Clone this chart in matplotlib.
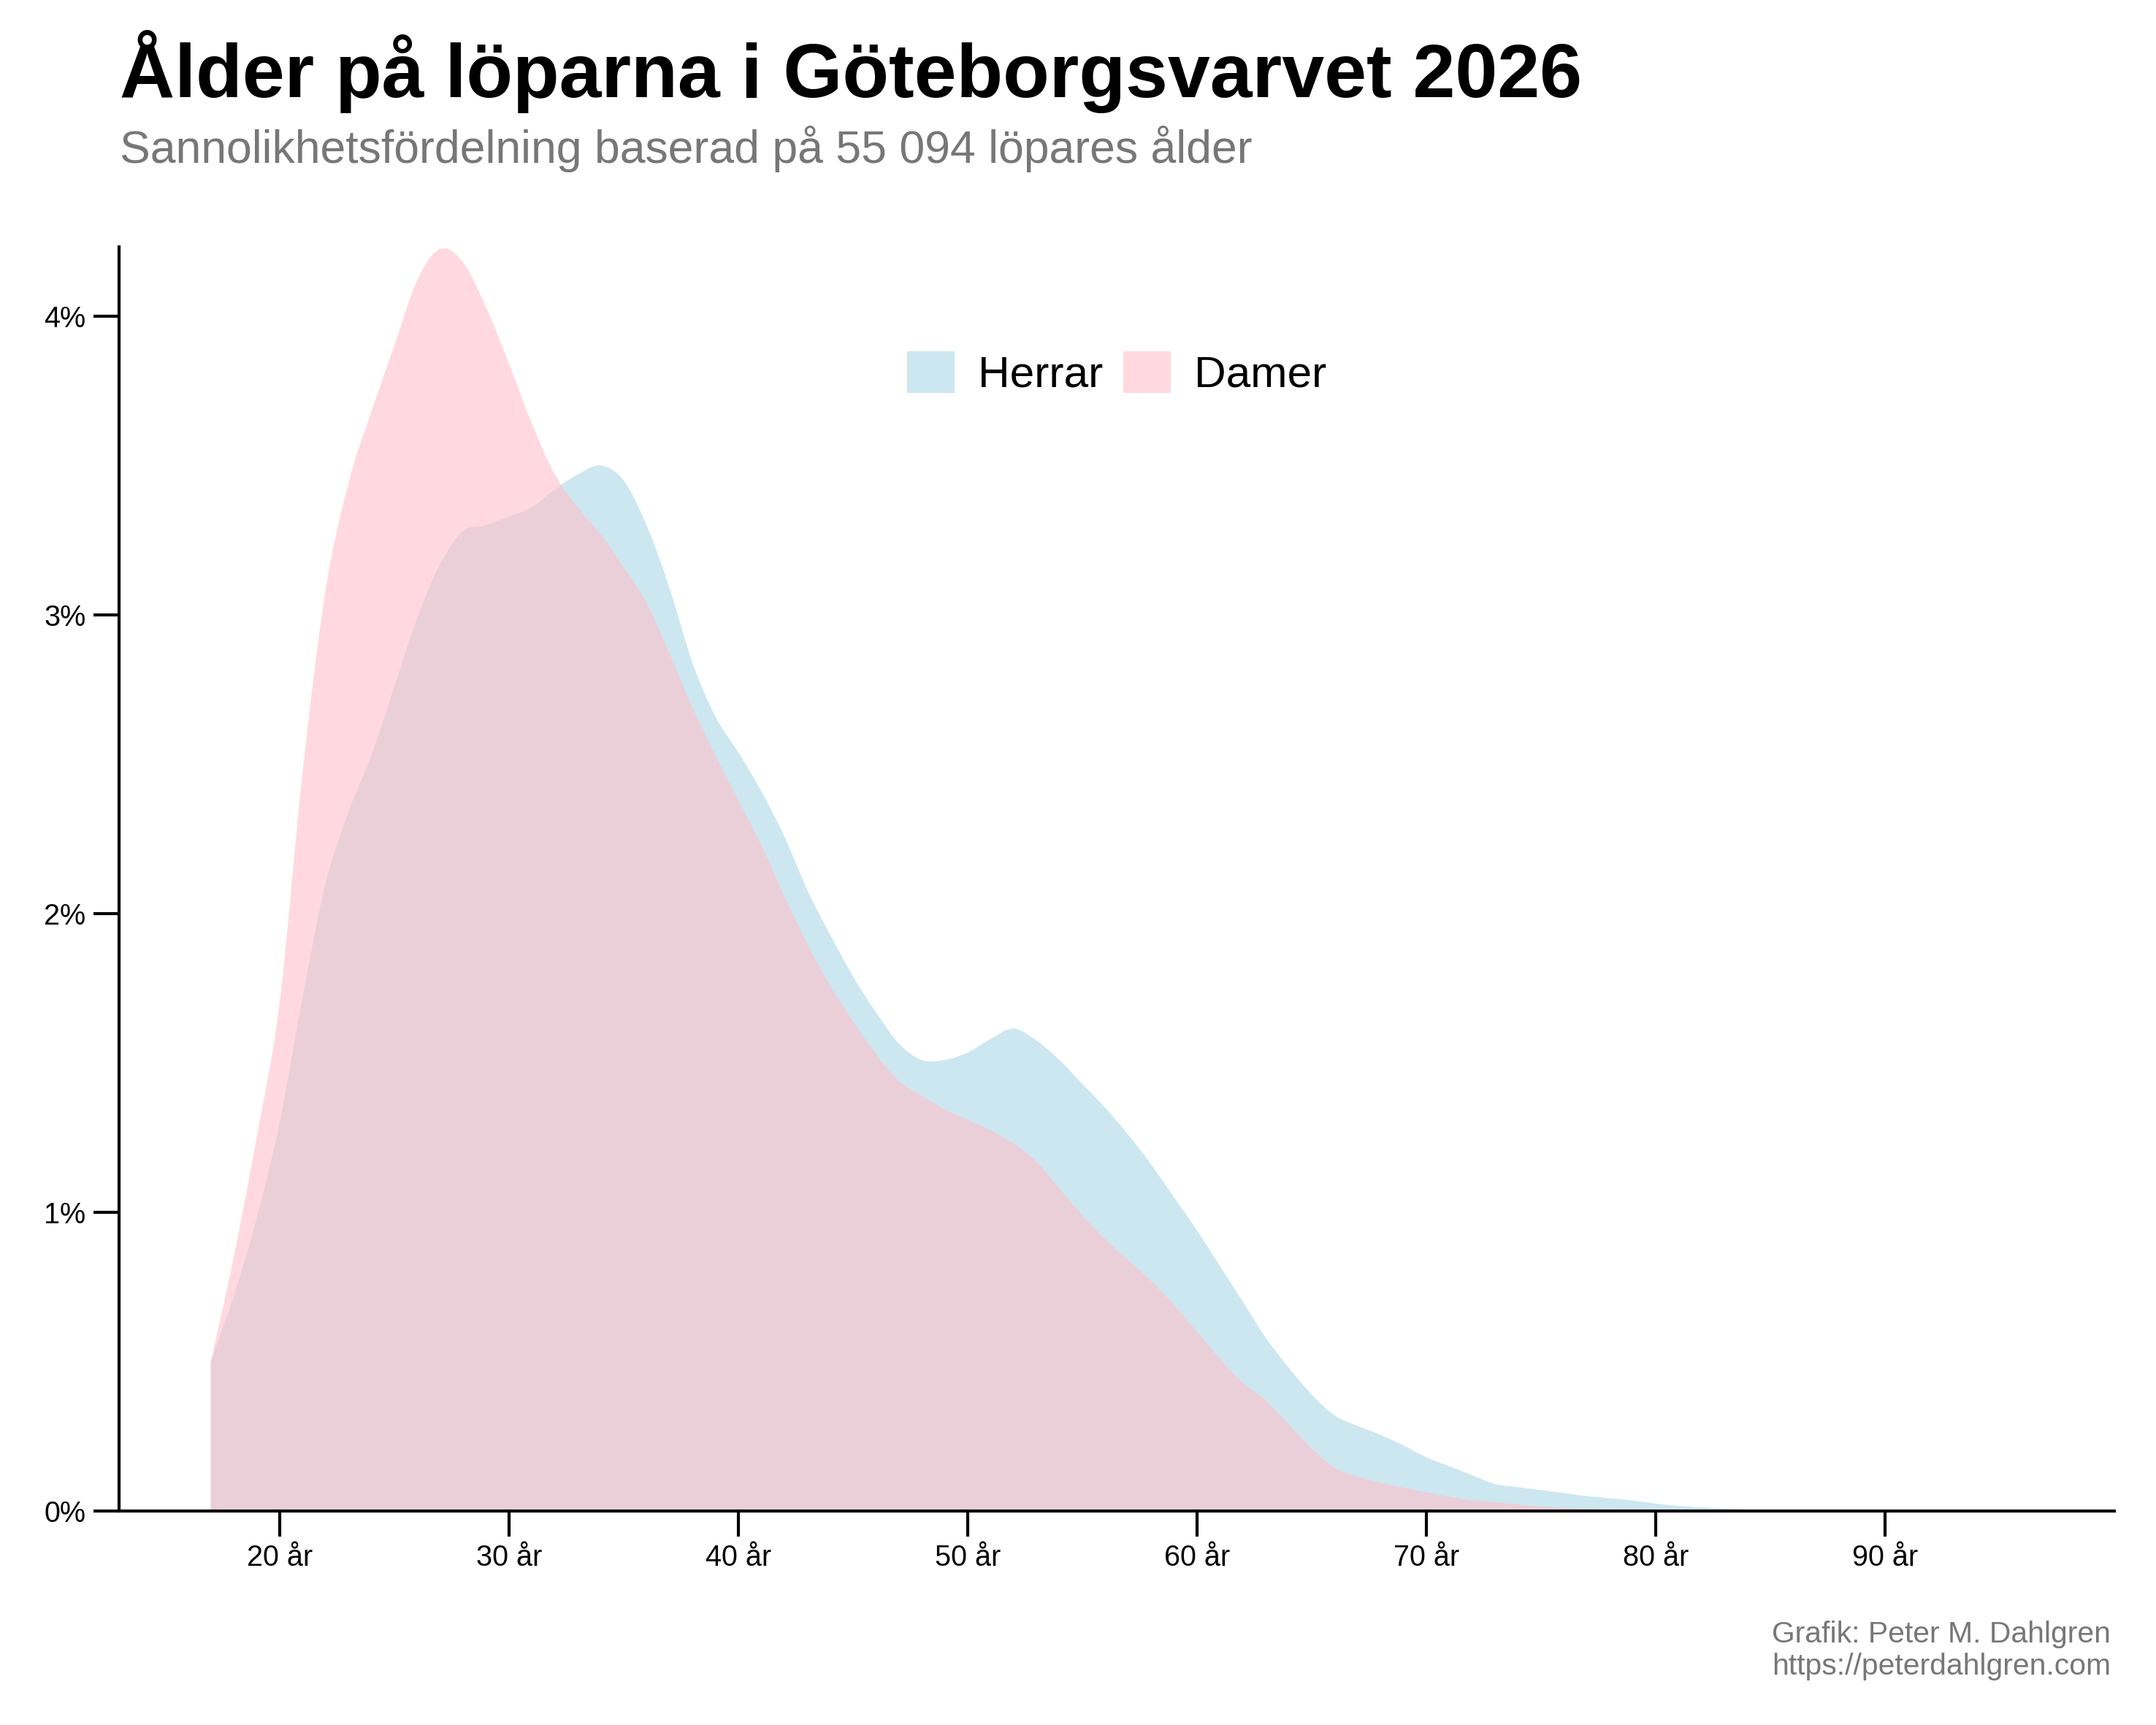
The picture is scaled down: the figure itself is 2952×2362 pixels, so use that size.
import matplotlib
matplotlib.use("Agg")
import matplotlib.pyplot as plt
from matplotlib.path import Path
from matplotlib.patches import PathPatch
import numpy as np

plt.rcParams['font.family'] = ['Liberation Sans', 'DejaVu Sans']

# Age (years) and density (%)
ages = list(range(17, 91))

herrar = [0.50, 0.72, 0.98, 1.30, 1.72, 2.10, 2.34, 2.53, 2.76, 2.99,
          3.17, 3.28, 3.30, 3.33, 3.36, 3.42, 3.47, 3.50, 3.45, 3.30,
          3.09, 2.84, 2.66, 2.54, 2.41, 2.26, 2.08, 1.93, 1.79, 1.67,
          1.565, 1.51, 1.51, 1.535, 1.58, 1.615, 1.575, 1.51, 1.43, 1.35,
          1.26, 1.16, 1.05, 0.94, 0.82, 0.70, 0.58, 0.48, 0.39, 0.32,
          0.285, 0.255, 0.22, 0.18, 0.15, 0.12, 0.09, 0.08, 0.07, 0.06,
          0.05, 0.043, 0.035, 0.025, 0.017, 0.012, 0.008, 0.005, 0.003, 0.002,
          0.001, 0.001, 0.0005, 0.0]

damer = [0.50, 0.85, 1.25, 1.70, 2.47, 3.08, 3.44, 3.68, 3.90, 4.12,
         4.225, 4.18, 4.03, 3.84, 3.64, 3.47, 3.36, 3.27, 3.16, 3.04,
         2.87, 2.69, 2.53, 2.38, 2.23, 2.06, 1.90, 1.76, 1.64, 1.53,
         1.44, 1.39, 1.345, 1.31, 1.275, 1.23, 1.17, 1.08, 0.99, 0.91,
         0.84, 0.77, 0.69, 0.60, 0.51, 0.43, 0.37, 0.29, 0.21, 0.145,
         0.115, 0.095, 0.078, 0.062, 0.048, 0.036, 0.03, 0.022, 0.015, 0.01,
         0.007, 0.005, 0.003, 0.002, 0.001, 0.001, 0.0005, 0.0, 0.0, 0.0,
         0.0, 0.0, 0.0, 0.0]

xticks = [20, 30, 40, 50, 60, 70, 80, 90]
xticklabels = [f"{v} år" for v in xticks]
yticks = [0, 1, 2, 3, 4]
yticklabels = [f"{v}%" for v in yticks]


def area_path(x, y):
    """Closed area under a smooth (Catmull-Rom / Bezier) curve through the points."""
    pts = np.column_stack([np.asarray(x, float), np.asarray(y, float)])
    n = len(pts)
    verts = [(pts[0, 0], 0.0), tuple(pts[0])]
    codes = [Path.MOVETO, Path.LINETO]
    for i in range(n - 1):
        p0 = pts[i - 1] if i > 0 else pts[i]
        p1 = pts[i]
        p2 = pts[i + 1]
        p3 = pts[i + 2] if i + 2 < n else pts[i + 1]
        c1 = p1 + (p2 - p0) / 6.0
        c2 = p2 - (p3 - p1) / 6.0
        verts += [tuple(c1), tuple(c2), tuple(p2)]
        codes += [Path.CURVE4] * 3
    verts += [(pts[-1, 0], 0.0), (pts[0, 0], 0.0)]
    codes += [Path.LINETO, Path.CLOSEPOLY]
    return Path(verts, codes)


W, H = 2952, 2362
fig = plt.figure(figsize=(W / 300, H / 300), dpi=300)
ax = fig.add_axes([163 / W, 1 - 2069 / H, (2895 - 163) / W, (2069 - 338) / H])

ax.add_patch(PathPatch(area_path(ages, herrar), facecolor='lightblue', alpha=0.6,
                       linewidth=0, label='Herrar'))
ax.add_patch(PathPatch(area_path(ages, damer), facecolor='pink', alpha=0.6,
                       linewidth=0, label='Damer'))

ax.set_xlim(13, 100)
ax.set_ylim(0, 4.232)
ax.set_xticks(xticks)
ax.set_xticklabels(xticklabels)
ax.set_yticks(yticks)
ax.set_yticklabels(yticklabels)

for s in ['top', 'right']:
    ax.spines[s].set_visible(False)
for s in ['left', 'bottom']:
    ax.spines[s].set_linewidth(1.0)
    ax.spines[s].set_zorder(3)
ax.tick_params(axis='both', direction='out', length=8.4, width=1.0, labelsize=9.5, pad=2.5)

leg = ax.legend(loc='center', bbox_to_anchor=(0.5, 0.9), ncol=2, frameon=False,
                fontsize=14.5, handlelength=1.08, handleheight=1.08,
                handletextpad=0.52, columnspacing=0.47, borderaxespad=0)

fig.text(164 / W, 1 - 133 / H, "Ålder på löparna i Göteborgsvarvet 2026",
         fontsize=25.0, fontweight='bold', ha='left', va='baseline', color='black')
fig.text(164 / W, 1 - 223 / H, "Sannolikhetsfördelning baserad på 55 094 löpares ålder",
         fontsize=15.0, ha='left', va='baseline', color='#777777')
fig.text(2890 / W, 1 - 2249 / H, "Grafik: Peter M. Dahlgren",
         fontsize=9.8, ha='right', va='baseline', color='#777777')
fig.text(2890 / W, 1 - 2293 / H, "https://peterdahlgren.com",
         fontsize=9.8, ha='right', va='baseline', color='#777777')

fig.savefig("out.png", dpi=300, facecolor='white')
